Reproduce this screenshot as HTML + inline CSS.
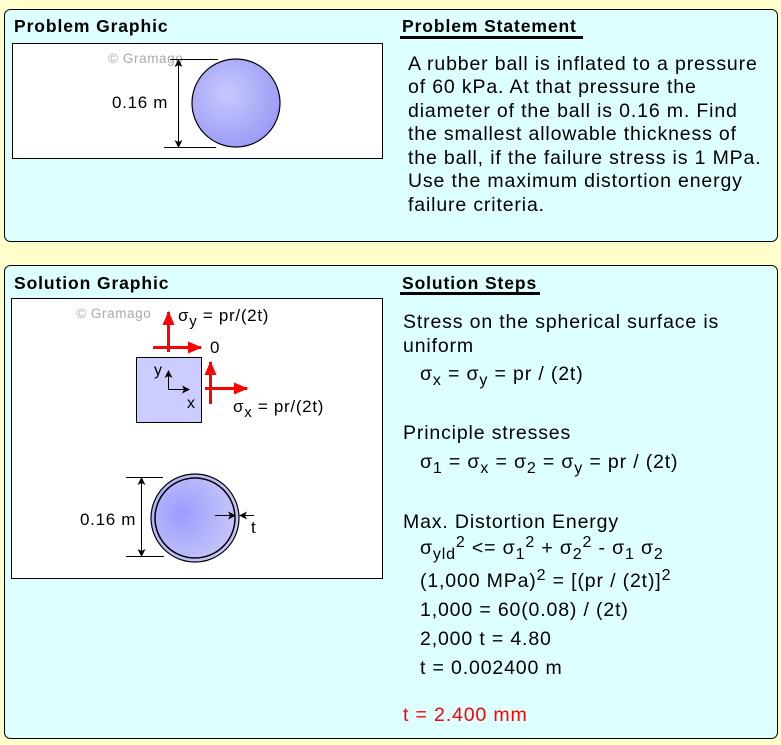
<!DOCTYPE html>
<html><head><meta charset="utf-8"><style>
html,body{margin:0;padding:0;background:#FFFFCC;}
svg{display:block;font-family:"Liberation Sans",Arial,sans-serif;}
</style></head><body>
<svg width="781" height="745" viewBox="0 0 781 745" xmlns="http://www.w3.org/2000/svg">
<defs>
<radialGradient id="g1" cx="0.4" cy="0.4" r="0.65">
<stop offset="0" stop-color="#C8C8FF"/><stop offset="1" stop-color="#9A9AF5"/></radialGradient>
<radialGradient id="g2" cx="0.35" cy="0.45" r="0.6">
<stop offset="0" stop-color="#9C9CFF"/><stop offset="1" stop-color="#C4C4F8"/></radialGradient>
<marker id="ab" markerWidth="8" markerHeight="8" refX="7" refY="4" orient="auto" markerUnits="userSpaceOnUse"><path d="M0,0 L8,4 L0,8 L2,4Z" fill="#000"/></marker>
<marker id="ar" markerWidth="14" markerHeight="12" refX="13" refY="6" orient="auto" markerUnits="userSpaceOnUse"><path d="M0,0 L14,6 L0,12Z" fill="#f00"/></marker>
</defs>
<rect x="4.5" y="9.5" width="773" height="232" rx="6" fill="#DDFFFF" stroke="#000"/>
<rect x="4.5" y="265.5" width="773" height="473" rx="6" fill="#DDFFFF" stroke="#000"/>
<g font-weight="bold" font-size="17.5" letter-spacing="0.9">
<text x="14" y="32">Problem Graphic</text>
<text x="402" y="32">Problem Statement</text>
<text x="14" y="289">Solution Graphic</text>
<text x="402" y="289">Solution Steps</text>
</g>
<rect x="400" y="36" width="183" height="3" fill="#000"/>
<rect x="400" y="292" width="140" height="3" fill="#000"/>
<!-- problem graphic -->
<rect x="12.5" y="43.5" width="370" height="115" fill="#fff" stroke="#000"/>
<text x="108" y="63" font-size="13.5" letter-spacing="0.6" fill="#aaa">© Gramago</text>
<circle cx="236" cy="103" r="44" fill="url(#g1)" stroke="#000" stroke-width="1.2"/>
<line x1="170" y1="59.5" x2="218" y2="59.5" stroke="#000"/>
<line x1="164" y1="147.5" x2="216" y2="147.5" stroke="#000"/>
<line x1="178.5" y1="147" x2="178.5" y2="60" stroke="#000" marker-end="url(#ab)"/>
<line x1="178.5" y1="60" x2="178.5" y2="147" stroke="#000" marker-end="url(#ab)"/>
<text x="112" y="108" font-size="17" letter-spacing="0.7">0.16 m</text>
<!-- statement -->
<g font-size="19.5" letter-spacing="0.85">
<text x="408" y="70">A rubber ball is inflated to a pressure</text>
<text x="408" y="93">of 60 kPa. At that pressure the</text>
<text x="408" y="117">diameter of the ball is 0.16 m. Find</text>
<text x="408" y="140">the smallest allowable thickness of</text>
<text x="408" y="164">the ball, if the failure stress is 1 MPa.</text>
<text x="408" y="187">Use the maximum distortion energy</text>
<text x="408" y="211">failure criteria.</text>
</g>
<!-- solution graphic -->
<rect x="11.5" y="298.5" width="371" height="280" fill="#fff" stroke="#000"/>
<text x="76" y="318" font-size="13.5" letter-spacing="0.6" fill="#aaa">© Gramago</text>
<rect x="136.5" y="357.5" width="65" height="65" fill="#CCCCFF" stroke="#000"/>
<line x1="168.5" y1="389" x2="168.5" y2="371" stroke="#000" marker-end="url(#ab)"/>
<line x1="168" y1="389.5" x2="189" y2="389.5" stroke="#000" marker-end="url(#ab)"/>
<text x="154" y="375" font-size="16">y</text>
<text x="187" y="408" font-size="16">x</text>
<line x1="168.5" y1="352" x2="168.5" y2="312" stroke="#f00" stroke-width="3" marker-end="url(#ar)"/>
<line x1="153" y1="347.5" x2="201" y2="347.5" stroke="#f00" stroke-width="3" marker-end="url(#ar)"/>
<line x1="210.5" y1="404" x2="210.5" y2="362" stroke="#f00" stroke-width="3" marker-end="url(#ar)"/>
<line x1="205" y1="388.5" x2="247" y2="388.5" stroke="#f00" stroke-width="3" marker-end="url(#ar)"/>
<g font-size="17" letter-spacing="0.7">
<text x="210" y="353">0</text>
<text x="178" y="321">σ<tspan font-size="15" dy="5">y</tspan><tspan dy="-5"> = pr/(2t)</tspan></text>
<text x="233" y="412">σ<tspan font-size="15" dy="5">x</tspan><tspan dy="-5"> = pr/(2t)</tspan></text>
<text x="80" y="525">0.16 m</text>
<text x="251" y="533">t</text>
</g>
<circle cx="195" cy="518" r="44" fill="url(#g2)" stroke="#000" stroke-width="1.2"/>
<circle cx="195" cy="518" r="40" fill="none" stroke="#000" stroke-width="1.5"/>
<line x1="126" y1="477.5" x2="163" y2="477.5" stroke="#000"/>
<line x1="126" y1="556.5" x2="164" y2="556.5" stroke="#000"/>
<line x1="141.5" y1="556" x2="141.5" y2="478" stroke="#000" marker-end="url(#ab)"/>
<line x1="141.5" y1="478" x2="141.5" y2="556" stroke="#000" marker-end="url(#ab)"/>
<line x1="215" y1="515.5" x2="235" y2="515.5" stroke="#000" marker-end="url(#ab)"/>
<line x1="254" y1="515.5" x2="240" y2="515.5" stroke="#000" marker-end="url(#ab)"/>
<!-- steps -->
<g font-size="19.5" letter-spacing="0.85">
<text x="403" y="328">Stress on the spherical surface is</text>
<text x="403" y="352">uniform</text>
<text x="420" y="380">σ<tspan font-size="16" dy="5">x</tspan><tspan dy="-5"> = σ</tspan><tspan font-size="16" dy="5">y</tspan><tspan dy="-5"> = pr / (2t)</tspan></text>
<text x="403" y="439">Principle stresses</text>
<text x="420" y="468">σ<tspan font-size="16" dy="5">1</tspan><tspan dy="-5"> = σ</tspan><tspan font-size="16" dy="5">x</tspan><tspan dy="-5"> = σ</tspan><tspan font-size="16" dy="5">2</tspan><tspan dy="-5"> = σ</tspan><tspan font-size="16" dy="5">y</tspan><tspan dy="-5"> = pr / (2t)</tspan></text>
<text x="403" y="528">Max. Distortion Energy</text>
<text x="420" y="554">σ<tspan font-size="16" dy="5">yld</tspan><tspan font-size="16" dy="-12">2</tspan><tspan dy="7">  &lt;= σ</tspan><tspan font-size="16" dy="5">1</tspan><tspan font-size="16" dy="-12">2</tspan><tspan dy="7"> + σ</tspan><tspan font-size="16" dy="5">2</tspan><tspan font-size="16" dy="-12">2</tspan><tspan dy="7"> - σ</tspan><tspan font-size="16" dy="5">1</tspan><tspan dy="-5"> σ</tspan><tspan font-size="16" dy="5">2</tspan></text>
<text x="420" y="587">(1,000 MPa)<tspan font-size="16" dy="-7">2</tspan><tspan dy="7"> = [(pr / (2t)]</tspan><tspan font-size="16" dy="-7">2</tspan></text>
<text x="420" y="616">1,000 = 60(0.08) / (2t)</text>
<text x="420" y="645">2,000 t = 4.80</text>
<text x="420" y="674">t = 0.002400 m</text>
<text x="403" y="721" fill="#f00">t = 2.400 mm</text>
</g>
</svg>
</body></html>
